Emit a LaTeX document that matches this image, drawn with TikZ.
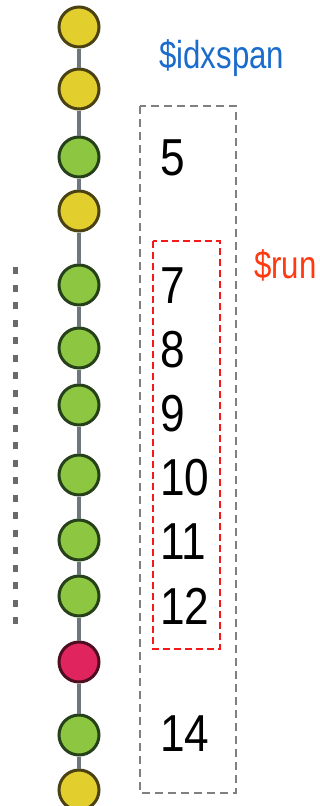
\documentclass[tikz,border=0pt]{standalone}
\usepackage{fontspec}
\newfontfamily\lblfont[FakeStretch=0.80]{Liberation Sans}
\newfontfamily\numfont[FakeStretch=0.85]{Liberation Sans}
\definecolor{ylw}{HTML}{E2CE2C}
\definecolor{ylwb}{HTML}{4A4212}
\definecolor{grn}{HTML}{8DC641}
\definecolor{grnb}{HTML}{26401A}
\definecolor{rd}{HTML}{E0245E}
\definecolor{rdb}{HTML}{4E0E22}
\definecolor{lnk}{HTML}{6E777E}
\definecolor{boxgray}{HTML}{808080}
\definecolor{dotgray}{HTML}{6A6A6A}
\definecolor{bluetxt}{HTML}{1A6BCC}
\definecolor{redtxt}{HTML}{FF3A12}
\definecolor{redbox}{HTML}{F41A1A}
\tikzset{
  commit/.style={circle, minimum size=40pt, inner sep=0pt, line width=3pt},
  cy/.style={commit, fill=ylw, draw=ylwb},
  cg/.style={commit, fill=grn, draw=grnb},
  cr/.style={commit, fill=rd, draw=rdb},
  link/.style={draw=lnk, line width=4pt},
  num/.style={anchor=west, inner sep=0pt, font=\numfont\fontsize{52}{52}\selectfont, text=black},
  lbl/.style={anchor=west, inner sep=0pt, font=\lblfont\fontsize{39}{39}\selectfont}
}
\begin{document}
\begin{tikzpicture}[x=1pt,y=-1pt]
\useasboundingbox (0,0) rectangle (320,806);
% commits
\node[cy] (c1) at (79,27) {};
\node[cy] (c2) at (79,89) {};
\node[cg] (c3) at (79,157) {};
\node[cy] (c4) at (79,211) {};
\node[cg] (c5) at (79,285) {};
\node[cg] (c6) at (79,348) {};
\node[cg] (c7) at (79,405) {};
\node[cg] (c8) at (79,475) {};
\node[cg] (c9) at (79,540) {};
\node[cg] (c10) at (79,596) {};
\node[cr] (c11) at (79,662) {};
\node[cg] (c12) at (79,735) {};
\node[cy] (c13) at (79,790) {};
\foreach \a/\b in {c1/c2,c2/c3,c3/c4,c4/c5,c5/c6,c6/c7,c7/c8,c8/c9,c9/c10,c10/c11,c11/c12,c12/c13}
  \draw[link] (\a) -- (\b);
% left dotted line
\coordinate (d1) at (15,267);
\coordinate (d2) at (15,624);
\draw[draw=dotgray, line width=5pt, dash pattern=on 7pt off 10.5pt] (d1) -- (d2);
% boxes
\draw[boxgray, line width=2.6pt, dash pattern=on 8pt off 5pt] (140,106) rectangle (236,793);
\draw[redbox, line width=2.3pt, dash pattern=on 7pt off 4pt] (153,241) rectangle (220,649);
% labels
\node[lbl, text=bluetxt] (idx) at (159,58) {\$idxspan};
\node[lbl, text=redtxt] (run) at (254,265) {\$run};
% numbers
\node[num] (n5) at (160,158) {5};
\node[num] (n7) at (160,286) {7};
\node[num] (n8) at (160,350) {8};
\node[num] (n9) at (160,414) {9};
\node[num] (n10) at (160,478) {10};
\node[num] (n11) at (160,542) {11};
\node[num] (n12) at (160,606) {12};
\node[num] (n14) at (160,734) {14};
\end{tikzpicture}
\end{document}
